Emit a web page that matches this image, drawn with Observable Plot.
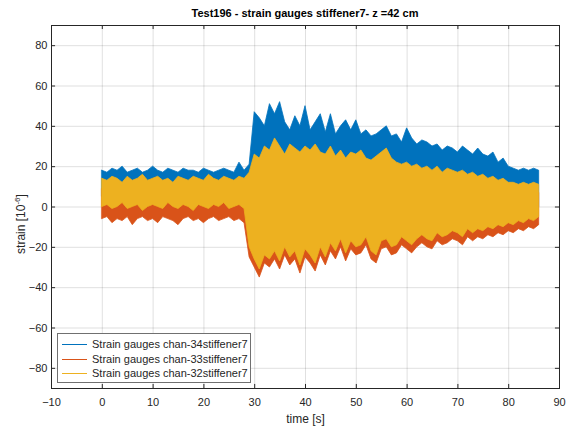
<!DOCTYPE html>
<html><head><meta charset="utf-8">
<script src="https://cdn.jsdelivr.net/npm/d3@7"></script>
<script src="https://cdn.jsdelivr.net/npm/@observablehq/plot@0.6"></script>
<style>
body{margin:0;background:#fff;font-family:"Liberation Sans",Arial,sans-serif;}
#wrap{position:relative;width:568px;height:429px;overflow:hidden;}
#title{height:20px;box-sizing:border-box;padding-top:7px;padding-left:51px;width:568px;padding-right:9px;font-size:11px;font-weight:bold;line-height:12px;text-align:center;color:#000;}
#legend{position:absolute;left:57px;top:333px;width:192px;height:48px;border:1px solid #707070;background:#fff;font-size:11px;color:#262626;}
.row{position:absolute;left:0;height:14px;line-height:14px;}
.row span.sw{position:absolute;left:4px;top:7px;width:25px;height:0;border-top:1px solid;}
.row span.tx{position:absolute;left:34px;top:0;white-space:nowrap;}
</style></head>
<body>
<div id="wrap">
<div id="title">Test196 - strain gauges stiffener7- z =42 cm</div>
<div id="chart"></div>
<div id="legend"></div>
</div>
<script>
// series names and colours
const seriesNames = ["Strain gauges chan-34stiffener7","Strain gauges chan-33stiffener7","Strain gauges chan-32stiffener7"];
const seriesColors = ["#0072BD","#D95319","#EDB120"];
const xTicks = [-10,0,10,20,30,40,50,60,70,80,90];
const yTicks = [-80,-60,-40,-20,0,20,40,60,80];

// per-second envelope readings (t = 0 .. 86 s): upper and lower extremes
const blueHi = [18,17,19,18,20,17,18,19,17,18,20,18,17,19,18,17,19,18,18,17,19,18,17,18,19,18,17,22,18,21,
  47,44,40,51,46,52,42,38,45,40,50,38,42,46,37,46,36,40,43,38,43,36,38,35,36,38,40,35,36,32,39,34,31,33,32,30,31,28,30,29,27,30,28,26,29,26,25,27,22,24,20,19,18,19,18,19,18];
const blueLo = [5,4,6,5,3,5,4,6,5,4,5,3,5,6,4,5,4,5,3,5,4,6,5,4,5,3,5,4,5,-10,
  -20,-26,-18,-22,-15,-30,-14,-20,-16,-24,-15,-18,-22,-14,-20,-12,-16,-10,-18,-12,-15,-14,-10,-17,-19,-12,-11,-15,-14,-10,-12,-14,-11,-9,-11,-12,-8,-10,-9,-7,-8,-10,-6,-8,-6,-7,-5,-6,-4,-5,-3,-4,-2,-3,-1,-2,0];
const redHi = [9,10,8,9,11,9,10,8,9,10,9,11,10,9,8,10,9,11,9,10,8,9,10,9,11,10,9,8,10,12,
  22,20,25,24,28,26,22,27,24,23,26,24,27,23,22,25,21,24,20,23,22,24,20,19,21,23,25,20,18,17,18,16,17,15,16,14,16,13,15,14,13,14,12,13,11,12,10,11,9,10,8,8,7,8,7,8,7];
const redLo = [-6,-5,-8,-6,-7,-5,-9,-6,-5,-7,-6,-8,-5,-6,-7,-9,-6,-5,-7,-6,-8,-6,-5,-7,-6,-5,-7,-6,-8,-25,
  -30,-35,-28,-30,-26,-31,-24,-29,-26,-33,-25,-28,-32,-24,-29,-22,-26,-20,-27,-21,-24,-23,-19,-26,-28,-21,-20,-24,-23,-19,-21,-23,-20,-18,-20,-21,-17,-19,-18,-16,-17,-19,-15,-17,-15,-16,-14,-15,-13,-14,-12,-13,-11,-12,-10,-11,-9];
const yelHi = [14,13,15,14,12,15,13,14,16,13,14,15,13,14,12,15,14,13,15,14,13,16,14,13,15,14,13,15,14,17,
  26,24,30,28,34,30,26,31,29,27,30,28,31,27,26,30,25,28,24,27,26,28,24,23,25,27,29,24,22,21,22,20,21,19,20,18,20,17,19,18,17,18,16,17,15,16,14,15,13,14,12,12,11,12,11,12,11];
const yelLo = [0,1,-1,0,2,-1,0,1,-2,0,1,0,-1,2,0,-1,1,0,-2,1,0,-1,1,0,2,-1,0,1,-1,-20,
  -26,-31,-24,-26,-22,-27,-20,-25,-22,-29,-21,-24,-28,-20,-25,-18,-22,-16,-23,-17,-20,-19,-15,-22,-24,-17,-16,-20,-19,-15,-17,-19,-16,-14,-16,-17,-13,-15,-14,-12,-13,-15,-11,-13,-11,-12,-10,-11,-9,-10,-8,-9,-7,-8,-6,-7,-5];

function band(hi, lo){ return hi.map((h,i)=>({t:i, hi:h, lo:lo[i]})); }
const bands = [band(blueHi,blueLo), band(redHi,redLo), band(yelHi,yelLo)];

const axisColor = "#262626";
const plot = Plot.plot({
  width:568, height:409,
  marginLeft:51, marginRight:9, marginTop:5, marginBottom:41,
  x:{domain:[-10,90]},
  y:{domain:[-90,90]},
  style:{fontFamily:"'Liberation Sans', Arial, sans-serif", fontSize:"11px", color:axisColor, background:"#fff"},
  marks:[
    Plot.gridX(xTicks,{stroke:axisColor, strokeOpacity:0.14}),
    Plot.gridY(yTicks,{stroke:axisColor, strokeOpacity:0.14}),
    ...bands.map((d,k)=>Plot.areaY(d,{x:"t", y1:"lo", y2:"hi", fill:seriesColors[k], stroke:seriesColors[k], strokeWidth:0.8})),
    Plot.ruleX(xTicks,{x:d=>d, y1:-90, y2:-88, stroke:axisColor}),
    Plot.ruleX(xTicks,{x:d=>d, y1:88, y2:90, stroke:axisColor}),
    Plot.ruleY(yTicks,{y:d=>d, x1:-10, x2:-9.2, stroke:axisColor}),
    Plot.ruleY(yTicks,{y:d=>d, x1:89.2, x2:90, stroke:axisColor}),
    Plot.frame({stroke:axisColor}),
    Plot.axisX(xTicks,{tickSize:0, tickPadding:10, label:null}),
    Plot.axisY(yTicks,{tickSize:0, tickPadding:4, label:null}),
    Plot.text(["time [s]"],{text:d=>d, frameAnchor:"bottom", dy:31, lineAnchor:"middle", fontSize:12, fill:axisColor})
  ]
});
document.getElementById("chart").appendChild(plot);

// y-axis label with superscript exponent
const svg = d3.select(plot);
const yl = svg.append("text")
  .attr("transform","translate(25,204) rotate(-90)")
  .attr("text-anchor","middle")
  .attr("fill",axisColor)
  .style("font-size","12px");
yl.append("tspan").text("strain [10");
yl.append("tspan").attr("dy","-5").style("font-size","8px").text("-6");
yl.append("tspan").attr("dy","5").text("]");

// legend
const leg = d3.select("#legend");
seriesNames.forEach((n,k)=>{
  const r = leg.append("div").attr("class","row").style("top",(3+k*14.5)+"px").style("width","190px");
  r.append("span").attr("class","sw").style("border-color",seriesColors[k]);
  r.append("span").attr("class","tx").text(n);
});
</script>
</body></html>
